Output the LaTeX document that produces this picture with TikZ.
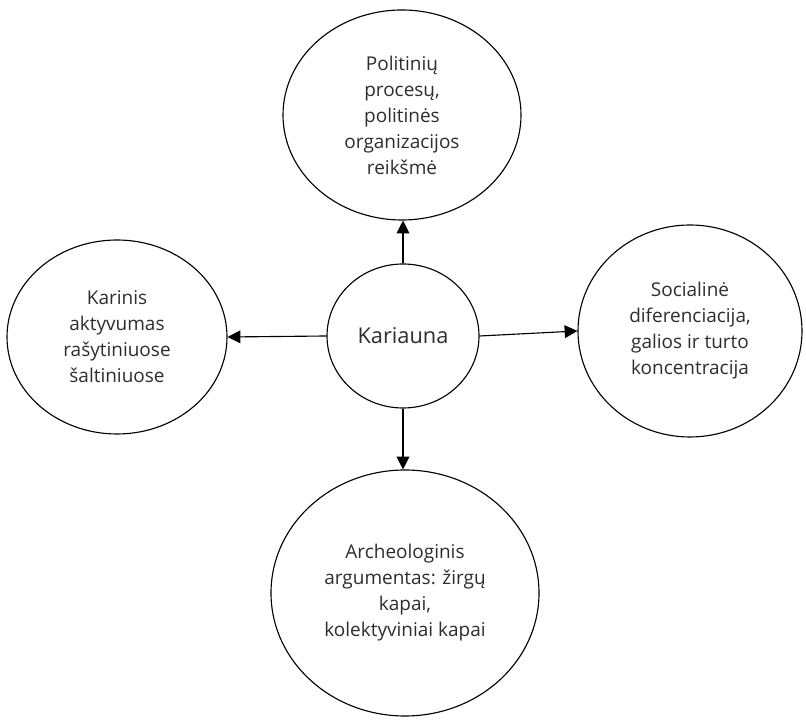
\documentclass[tikz,border=0pt]{standalone}
\usepackage{fontspec}
\setmainfont{Open Sans}
\usepackage{tikz}
\usetikzlibrary{arrows.meta}
\usetikzlibrary{shapes.geometric}
\definecolor{txtgray}{RGB}{45,45,45}

\begin{document}
\begin{tikzpicture}[
		bubble/.style={draw, ellipse, line width=0.8pt, inner sep=0pt, align=center,
			text=txtgray, font=\fontsize{13.5}{18.5}\selectfont},
		link/.style={line width=0.8pt, -{Triangle[length=0.32cm,width=0.32cm]}}
	]
		\useasboundingbox (0,0) rectangle (20.15,18.05);
		
		% central node
		\node[bubble, minimum width=3.8cm, minimum height=3.6cm,
			font=\fontsize{15.5}{19}\selectfont] (kar) at (10.075,9.65) {Kariauna};
		
		% surrounding topics
		\node[bubble, minimum width=5.95cm, minimum height=5.25cm] (pol) at (10.05,15.175)
			{Politinių\\procesų,\\politinės\\organizacijos\\reikšmė};
		\node[bubble, minimum width=5.5cm, minimum height=4.85cm] (rast) at (2.925,9.625)
			{Karinis\\aktyvumas\\rašytiniuose\\šaltiniuose};
		\node[bubble, minimum width=5.6cm, minimum height=5.3cm] (soc) at (17.25,9.775)
			{Socialinė\\diferenciacija,\\galios ir turto\\koncentracija};
		\node[bubble, minimum width=6.7cm, minimum height=6.15cm] (arch) at (10.125,3.225)
			{Archeologinis\\argumentas: žirgų\\kapai,\\kolektyviniai kapai};
		
		% arrows out of the centre
		\draw[link] (kar.north) -- (kar.north |- pol.south);
		\draw[link] (kar.west) -- (rast.east);
		\draw[link] (kar.east) -- (soc.west);
		\draw[link] (kar.south) -- (kar.south |- arch.north);
	\end{tikzpicture}
\end{document}
